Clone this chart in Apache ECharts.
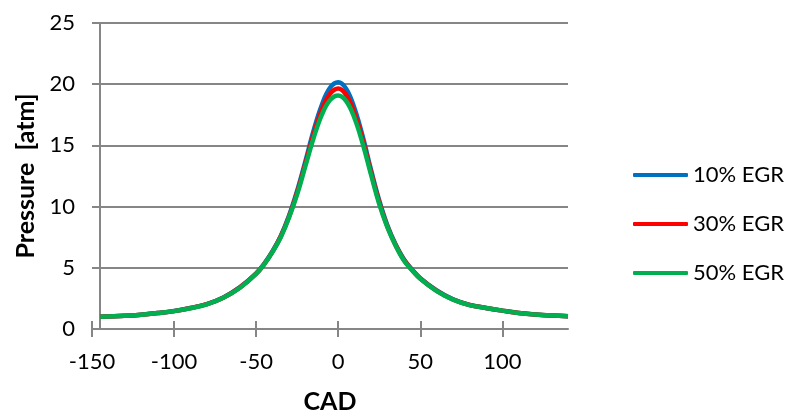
<!DOCTYPE html>
<html>
<head>
<meta charset="utf-8">
<script src="https://cdn.jsdelivr.net/npm/echarts@6/dist/echarts.min.js"></script>
<style>
  html, body { margin: 0; padding: 0; background: #fff; }
  #chart { width: 786px; height: 419px; }
</style>
</head>
<body>
<div id="chart"></div>
<script>
// crank angle (deg) and cylinder pressure (atm) for each EGR rate
var cad = [-145, -130, -120, -110, -100, -90, -80, -70, -60, -50, -45, -40, -35, -30, -25, -20, -15, -10, -5, 0,
  5, 10, 15, 20, 25, 30, 35, 40, 45, 50, 60, 70, 80, 90, 100, 110, 120, 130, 140];
var p10 = [1.0, 1.08, 1.17, 1.3, 1.47, 1.72, 2.04, 2.58, 3.4, 4.55, 5.35, 6.35, 7.6, 9.25, 11.3, 13.7, 16.2, 18.3, 19.7, 20.15,
  19.6, 18.0, 15.7, 13.0, 10.5, 8.45, 6.9, 5.7, 4.85, 4.15, 3.15, 2.42, 1.97, 1.72, 1.5, 1.31, 1.19, 1.1, 1.05];
var p30 = [1.0, 1.08, 1.17, 1.3, 1.46, 1.71, 2.03, 2.56, 3.38, 4.52, 5.32, 6.32, 7.55, 9.15, 11.15, 13.5, 15.9, 17.9, 19.2, 19.65,
  19.1, 17.6, 15.4, 12.8, 10.35, 8.35, 6.85, 5.65, 4.82, 4.12, 3.12, 2.41, 1.96, 1.72, 1.5, 1.31, 1.18, 1.1, 1.05];
var p50 = [1.0, 1.08, 1.17, 1.3, 1.46, 1.7, 2.02, 2.55, 3.35, 4.5, 5.3, 6.3, 7.5, 9.1, 11.0, 13.3, 15.6, 17.5, 18.7, 19.08,
  18.6, 17.2, 15.1, 12.6, 10.2, 8.3, 6.8, 5.6, 4.8, 4.1, 3.1, 2.4, 1.95, 1.72, 1.5, 1.3, 1.18, 1.1, 1.05];
var xTicks = [-150, -100, -50, 0, 50, 100];
var names = ['10% EGR', '30% EGR', '50% EGR'];
var colors = ['#0070C0', '#FF0000', '#00B050'];

function pairs(ys) {
  return cad.map(function (x, i) { return [x, ys[i]]; });
}

var font = 'Lato';
var axisGray = '#868686';

var myChart = echarts.init(document.getElementById('chart'));
var option = {
  animation: false,
  grid: { left: 92, right: 218, top: 23, bottom: 87 },
  legend: {
    orient: 'vertical',
    left: 628,
    top: 159,
    itemWidth: 55,
    itemHeight: 4,
    itemGap: 27,
    icon: 'roundRect',
    textStyle: { fontFamily: font, fontSize: 22, color: '#000' },
    data: names
  },
  xAxis: [
    {
      type: 'value',
      min: -150,
      max: 140,
      name: 'CAD',
      nameLocation: 'middle',
      nameGap: 60,
      nameTextStyle: { fontFamily: font, fontSize: 25, fontWeight: 'bold', color: '#000' },
      axisLine: { show: true, onZero: false, lineStyle: { color: axisGray, width: 2 } },
      axisTick: { show: true, length: 8, customValues: xTicks, lineStyle: { color: axisGray, width: 2 } },
      axisLabel: { customValues: xTicks, margin: 22, fontFamily: font, fontSize: 22, color: '#000' },
      splitLine: { show: false }
    },
    {
      type: 'value',
      min: -150,
      max: 140,
      position: 'bottom',
      axisLine: { show: false, onZero: false },
      axisTick: { show: true, inside: true, length: 8, customValues: xTicks, lineStyle: { color: axisGray, width: 2 } },
      axisLabel: { show: false },
      splitLine: { show: false }
    }
  ],
  yAxis: {
    type: 'value',
    min: 0,
    max: 25,
    interval: 5,
    offset: -8,
    name: 'Pressure  [atm]',
    nameLocation: 'middle',
    nameGap: 60,
    nameTextStyle: { fontFamily: font, fontSize: 25, fontWeight: 'bold', color: '#000' },
    axisLine: { show: true, onZero: false, lineStyle: { color: axisGray, width: 2 } },
    axisTick: { show: false },
    axisLabel: { margin: 25, fontFamily: font, fontSize: 22, color: '#000' },
    splitLine: { show: true, lineStyle: { color: axisGray, width: 2 } }
  },
  series: names.map(function (n, i) {
    return {
      name: n,
      type: 'line',
      xAxisIndex: 0,
      data: pairs([p10, p30, p50][i]),
      smooth: 0.4,
      showSymbol: false,
      symbol: 'none',
      lineStyle: { color: colors[i], width: 4.5 },
      itemStyle: { color: colors[i] },
      z: 3 + i
    };
  })
};
myChart.setOption(option);
</script>
</body>
</html>
